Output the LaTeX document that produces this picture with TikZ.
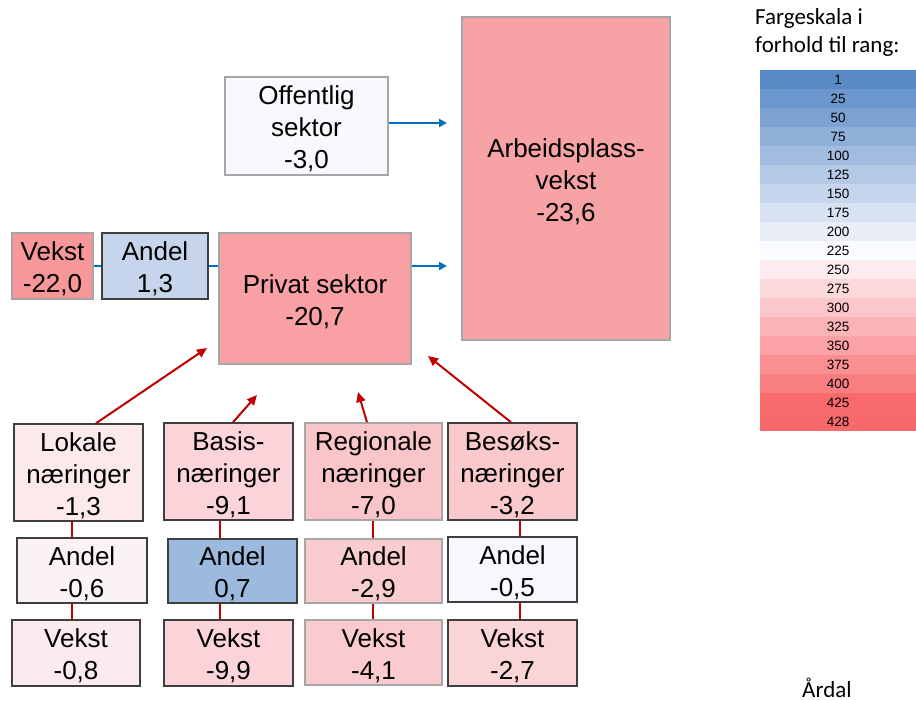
\documentclass[tikz,border=0pt]{standalone}
\usepackage{fontspec}
\setmainfont{Liberation Sans}
\newfontfamily\calfnt{Carlito}
\usetikzlibrary{arrows.meta}
\definecolor{sblue}{HTML}{5A8AC6}
\definecolor{swhite}{HTML}{FCFCFF}
\definecolor{sred}{HTML}{F8696B}
\definecolor{bgray}{HTML}{A6A6A6}
\definecolor{bdark}{HTML}{3F3F3F}
\definecolor{arrblue}{HTML}{0070C0}
\definecolor{arrred}{HTML}{C00000}
\definecolor{cOff}{HTML}{FAF8FC}
\definecolor{cArb}{HTML}{F7A3A6}
\definecolor{cVek}{HTML}{F8979A}
\definecolor{cAnd}{HTML}{C6D5EC}
\definecolor{cPriv}{HTML}{F8A0A3}
\definecolor{cLok}{HTML}{FCE9EC}
\definecolor{cBas}{HTML}{FAD4D8}
\definecolor{cReg}{HTML}{F9C5C9}
\definecolor{cBes}{HTML}{F9C9CC}
\definecolor{cLokA}{HTML}{FAF2F5}
\definecolor{cBasA}{HTML}{9CB9DE}
\definecolor{cRegA}{HTML}{F9CDD0}
\definecolor{cBesA}{HTML}{F7F8FD}
\definecolor{cLokV}{HTML}{FCEBEE}
\definecolor{cBasV}{HTML}{FAD4D8}
\definecolor{cRegV}{HTML}{F9CBCE}
\definecolor{cBesV}{HTML}{FAD5D8}
\begin{document}
\begin{tikzpicture}[x=1pt,y=-1pt,
  lbl/.style={align=center, inner sep=0pt, yshift=-3pt, font=\fontsize{26}{32}\selectfont},
  bx/.style={draw, line width=1.5pt, inner sep=0pt},
  gb/.style={bx, draw=bgray},
  db/.style={bx, draw=bdark},
  bl/.style={draw=arrblue, line width=2pt},
  bla/.style={bl, -{Triangle[length=8pt,width=8pt]}},
  rl/.style={draw=arrred, line width=2pt},
  rla/.style={rl, -{Triangle[length=10pt,width=9pt]}},
  sc/.style={minimum width=156pt, minimum height=19pt, inner sep=0pt, font=\fontsize{13.5}{16}\selectfont, anchor=north west},
  ttl/.style={anchor=base west, inner sep=0pt, font=\calfnt\fontsize{23}{28}\selectfont}
]
\useasboundingbox (0,0) rectangle (916,701);

% top boxes
\node[gb, fill=cOff, minimum width=163pt, minimum height=98pt, label={[lbl]center:{Offentlig\\sektor\\-3,0}}] (off) at (306.5,126) {};
\node[gb, fill=cArb, minimum width=208pt, minimum height=323pt, label={[lbl]center:{Arbeidsplass-\\vekst\\-23,6}}] (arb) at (566,178.5) {};
\node[gb, fill=cVek, minimum width=81pt, minimum height=66pt, label={[lbl]center:{Vekst\\-22,0}}] (vek) at (52.5,266) {};
\node[db, fill=cAnd, minimum width=106pt, minimum height=66pt, label={[lbl]center:{Andel\\1,3}}] (and) at (155,266) {};
\node[gb, fill=cPriv, minimum width=192pt, minimum height=131pt, label={[lbl]center:{Privat sektor\\-20,7}}] (priv) at (315,298.5) {};

% industry boxes
\node[db, fill=cLok, minimum width=129pt, minimum height=97pt, label={[lbl]center:{Lokale\\næringer\\-1,3}}] (lok) at (78.5,472.5) {};
\node[db, fill=cBas, minimum width=129pt, minimum height=97pt, label={[lbl]center:{Basis-\\næringer\\-9,1}}] (bas) at (228.5,471.5) {};
\node[gb, fill=cReg, minimum width=137pt, minimum height=97pt, label={[lbl]center:{Regionale\\næringer\\-7,0}}] (reg) at (373.5,471.5) {};
\node[db, fill=cBes, minimum width=129pt, minimum height=97pt, label={[lbl]center:{Besøks-\\næringer\\-3,2}}] (bes) at (512.5,471.5) {};

\node[db, fill=cLokA, minimum width=130pt, minimum height=65pt, label={[lbl]center:{Andel\\-0,6}}] (lokA) at (82,570.5) {};
\node[db, fill=cBasA, minimum width=129pt, minimum height=64pt, label={[lbl]center:{Andel\\0,7}}] (basA) at (232.5,571) {};
\node[gb, fill=cRegA, minimum width=137pt, minimum height=64pt, label={[lbl]center:{Andel\\-2,9}}] (regA) at (373.5,571) {};
\node[db, fill=cBesA, minimum width=129pt, minimum height=65pt, label={[lbl]center:{Andel\\-0,5}}] (besA) at (512.5,569.5) {};

\node[db, fill=cLokV, minimum width=128pt, minimum height=66pt, label={[lbl]center:{Vekst\\-0,8}}] (lokV) at (76,653) {};
\node[db, fill=cBasV, minimum width=129pt, minimum height=66pt, label={[lbl]center:{Vekst\\-9,9}}] (basV) at (228.5,653) {};
\node[gb, fill=cRegV, minimum width=137pt, minimum height=65pt, label={[lbl]center:{Vekst\\-4,1}}] (regV) at (373.5,652.5) {};
\node[db, fill=cBesV, minimum width=129pt, minimum height=66pt, label={[lbl]center:{Vekst\\-2,7}}] (besV) at (512.5,653) {};

% helper coordinates
\coordinate (yb) at (0,266);
\coordinate (tOff) at (447,123);
\coordinate (tPriv) at (447,266);
\coordinate (xl1) at (72,0);
\coordinate (xl2) at (220,0);
\coordinate (xl3) at (373,0);
\coordinate (xl4) at (520,0);
\coordinate (sl1) at (96,0);
\coordinate (sl2) at (233,0);
\coordinate (sl3) at (367,0);
\coordinate (sl4) at (511,0);
\coordinate (tl1) at (207,348);
\coordinate (tl2) at (257,395);
\coordinate (tl3) at (358,392);
\coordinate (tl4) at (428,356);

% blue connectors
\draw[bla] (off.east |- tOff) -- (tOff);
\draw[bl] (vek.east |- yb) -- (and.west |- yb);
\draw[bl] (and.east |- yb) -- (priv.west |- yb);
\draw[bla] (priv.east |- yb) -- (tPriv);

% red arrows
\draw[rla] (lok.north -| sl1) -- (tl1);
\draw[rla] (bas.north -| sl2) -- (tl2);
\draw[rla] (reg.north -| sl3) -- (tl3);
\draw[rla] (bes.north -| sl4) -- (tl4);

% red vertical connectors
\draw[rl] (lok.south -| xl1) -- (lokA.north -| xl1);
\draw[rl] (lokA.south -| xl1) -- (lokV.north -| xl1);
\draw[rl] (bas.south -| xl2) -- (basA.north -| xl2);
\draw[rl] (basA.south -| xl2) -- (basV.north -| xl2);
\draw[rl] (reg.south -| xl3) -- (regA.north -| xl3);
\draw[rl] (regA.south -| xl3) -- (regV.north -| xl3);
\draw[rl] (bes.south -| xl4) -- (besA.north -| xl4);
\draw[rl] (besA.south -| xl4) -- (besV.north -| xl4);

% colour scale
\node[ttl] (t1) at (755,25) {Fargeskala i};
\node[ttl] (t2) at (755,53) {forhold til rang:};
\foreach \lab/\col [count=\i from 0] in {
  1/sblue!100!swhite, 25/sblue!89!swhite, 50/sblue!78!swhite, 75/sblue!67!swhite,
  100/sblue!56!swhite, 125/sblue!45!swhite, 150/sblue!34!swhite, 175/sblue!23!swhite,
  200/sblue!12!swhite, 225/sblue!1!swhite, 250/sred!11!swhite, 275/sred!24!swhite,
  300/sred!36!swhite, 325/sred!49!swhite, 350/sred!61!swhite, 375/sred!74!swhite,
  400/sred!86!swhite, 425/sred!99!swhite, 428/sred!100!swhite}{
  \node[sc, fill=\col] (s\i) at (760,70+19*\i) {\lab};
}
\node[ttl] (ardal) at (802,697) {Årdal};
\end{tikzpicture}
\end{document}
